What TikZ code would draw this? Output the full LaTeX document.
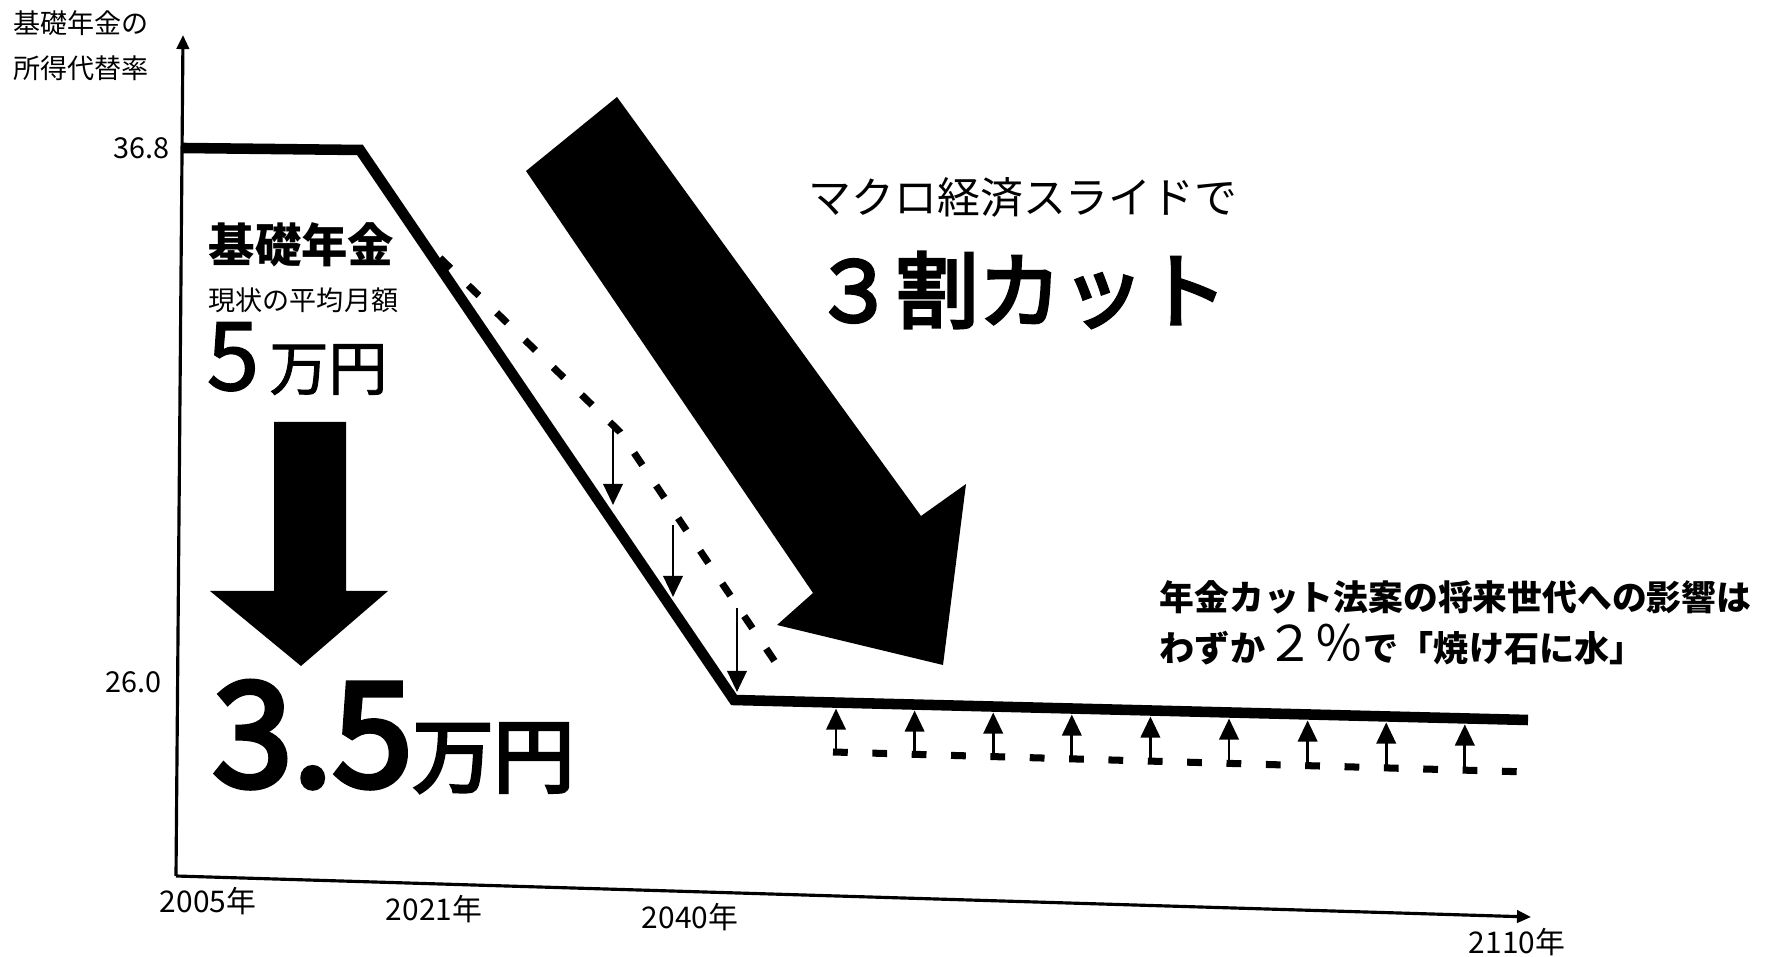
\documentclass[tikz,border=0pt]{standalone}
\usepackage{fontspec}
\setmainfont{Noto Sans CJK JP}
\newfontfamily\jpfb[FakeBold=4]{Noto Sans CJK JP}
\newfontfamily\jpfm[FakeBold=1.5]{Noto Sans CJK JP}
\usetikzlibrary{arrows.meta}
\newcommand{\fsz}[1]{\fontsize{#1}{#1}\selectfont}

\begin{document}
\begin{tikzpicture}[
		thickline/.style={line width=3pt, line join=miter},
		cutline/.style={line width=2pt, dash pattern=on 4.2pt off 7pt},
		gaparrow/.style={line width=0.8pt, -{Triangle[length=6pt,width=5.5pt]}},
		axisline/.style={line width=0.9pt, -{Triangle[length=4pt,width=3.5pt]}},
		lab/.style={inner sep=0pt}]
		\useasboundingbox (0,0) rectangle (17.65,9.56);

		%Akser
		\draw [axisline] (1.76,0.80) -- (1.83,9.21);
		\draw [axisline] (1.76,0.80) -- (15.31,0.39);
		\node [lab, anchor=west] (ytitle1) at (0.13,9.33) {\fsz{7.7}基礎年金の};
		\node [lab, anchor=west] (ytitle2) at (0.13,8.88) {\fsz{7.7}所得代替率};
		\node [lab, anchor=east] (v368) at (1.70,8.08) {\fsz{8.2}36.8};
		\node [lab, anchor=east] (v260) at (1.62,2.74) {\fsz{8.2}26.0};
		\node [lab] (y2005) at (2.08,0.55) {\fsz{8.5}2005年};
		\node [lab] (y2021) at (4.34,0.47) {\fsz{8.5}2021年};
		\node [lab] (y2040) at (6.90,0.39) {\fsz{8.5}2040年};
		\node [lab] (y2110) at (15.17,0.14) {\fsz{8.5}2110年};

		%Kurve og stiplet kurve
		\draw [thickline] (1.83,8.08) -- (3.60,8.06) -- (7.34,2.56) -- (15.28,2.36);
		\draw [cutline] (4.40,6.98) -- (6.20,5.24) -- (7.88,2.75);
		\draw [cutline] (8.33,2.04) -- (15.28,1.84);

		%Sma piler
		\foreach \x/\ya/\yb in {6.13/5.31/4.51, 6.73/4.31/3.59, 7.37/3.48/2.64}{
			\draw [gaparrow] (\x,\ya) -- (\x,\yb);
		}
		\foreach \i in {0,...,8}{
			\pgfmathsetmacro{\xa}{8.36+0.786*\i}
			\pgfmathsetmacro{\ya}{2.04-(\xa-8.33)*0.0288}
			\pgfmathsetmacro{\yb}{2.56-(\xa-7.34)*0.0252-0.06}
			\draw [gaparrow] (\xa,\ya) -- (\xa,\yb);
		}

		%Stor pil
		\fill [black] (5.26,7.85) -- (6.17,8.59) -- (9.21,4.40) -- (9.66,4.72)
			-- (9.43,2.91) -- (7.77,3.31) -- (8.13,3.63) -- cycle;
		\node [lab, anchor=west] (macro) at (8.08,7.59) {\fsz{12.2}マクロ経済スライドで};
		\node [lab, anchor=west] (sanwari) at (8.12,6.66) {\jpfb\fsz{23.6}３割カット};

		%Venstre blokk
		\node [lab, anchor=west] (kiso) at (2.08,7.11) {\fsz{13.2}\bfseries 基礎年金};
		\node [lab, anchor=west] (genjo) at (2.08,6.56) {\fsz{7.7}現状の平均月額};
		\node [lab, anchor=base west] (goman) at (2.06,5.66) {\jpfm\fsz{27}5\hspace{0.1cm}\fsz{16.8}万円};
		\fill [black] (2.74,5.34) -- (3.46,5.34) -- (3.46,3.65) -- (3.88,3.65)
			-- (3.01,2.90) -- (2.10,3.65) -- (2.74,3.65) -- cycle;
		\node [lab, anchor=base west] (sanman) at (2.12,1.70) {\jpfb\fsz{41}3.5\fsz{23}万円};

		%Tekst hoyre
		\node [lab, anchor=west] (eikyo) at (11.59,3.59) {\fsz{9.9}\bfseries 年金カット法案の将来世代への影響は};
		\node [lab, anchor=west] (wazuka) at (11.59,3.11) {\fsz{10}\bfseries わずか{\mdseries\fsz{14}２％}で「焼け石に水」};
	\end{tikzpicture}
\end{document}
